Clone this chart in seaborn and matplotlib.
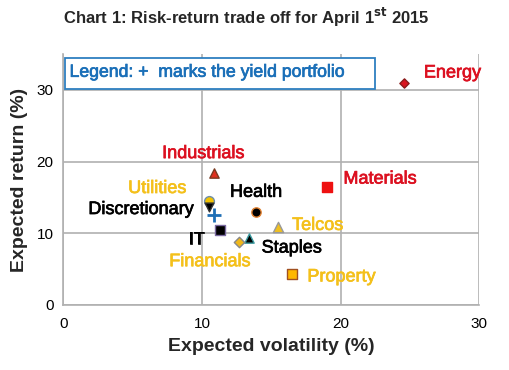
import matplotlib
matplotlib.use("Agg")
import matplotlib.pyplot as plt
import matplotlib.patheffects as pe
from matplotlib.patches import Rectangle
import seaborn as sns
import pandas as pd

sectors = ["Energy", "Industrials", "Materials", "Utilities", "Discretionary",
           "Health", "Telcos", "IT", "Staples", "Financials", "Property"]
volatility = [24.6, 10.9, 19.0, 10.5, 10.5, 13.9, 15.5, 11.3, 13.4, 12.65, 16.5]
expected_return = [31.0, 18.4, 16.4, 14.5, 13.7, 13.0, 10.9, 10.5, 9.3, 8.75, 4.3]
yield_vol = [10.9]
yield_ret = [12.55]
x_ticks = [0, 10, 20, 30]
y_ticks = [0, 10, 20, 30]

RED = "#dc1020"
GOLD = "#f4c01a"
BLACK = "#000000"

style = {
    "Energy":        dict(marker="D", s=22, face="#d9141e", edge="#8b1a1a", label=RED),
    "Industrials":   dict(marker="^", s=45, face="#e0301e", edge="#7a3a20", label=RED),
    "Materials":     dict(marker="s", s=50, face="#ee1111", edge="#ee1111", label=RED),
    "Utilities":     dict(marker="o", s=50, face="#f2c200", edge="#6f8fa8", label=GOLD),
    "Discretionary": dict(marker="v", s=40, face="#000000", edge="#333333", label=BLACK),
    "Health":        dict(marker="o", s=45, face="#000000", edge="#e08030", label=BLACK),
    "Telcos":        dict(marker="^", s=55, face="#f0c020", edge="#999999", label=GOLD),
    "IT":            dict(marker="s", s=50, face="#000000", edge="#7a6aa0", label=BLACK),
    "Staples":       dict(marker="^", s=45, face="#000000", edge="#3a9aa0", label=BLACK),
    "Financials":    dict(marker="D", s=28, face="#f0b81a", edge="#888888", label=GOLD),
    "Property":      dict(marker="s", s=50, face="#ffb800", edge="#a05020", label=GOLD),
}
# label placement (offsets in points, alignment)
label_pos = {
    "Energy":        ((14, 7), "left"),
    "Industrials":   ((-8, 14), "center"),
    "Materials":     ((12, 6), "left"),
    "Utilities":     ((-16, 9), "right"),
    "Discretionary": ((-11, -2), "right"),
    "Health":        ((0, 14), "center"),
    "Telcos":        ((10, 1), "left"),
    "IT":            ((-17, -7), "center"),
    "Staples":       ((9, -7), "left"),
    "Financials":    ((-50, -14), "left"),
    "Property":      ((11, -2), "left"),
}

df = pd.DataFrame({"sector": sectors, "vol": volatility, "ret": expected_return})

sns.set_theme(style="white")
plt.rcParams["font.family"] = ["Liberation Sans", "DejaVu Sans"]

fig = plt.figure(figsize=(5.09, 3.70), dpi=100)
ax = fig.add_axes([63.3 / 509, 1 - 305 / 370, (479.3 - 63.3) / 509, (305 - 54) / 370])

for _, row in df.iterrows():
    st = style[row["sector"]]
    sns.scatterplot(x=[row["vol"]], y=[row["ret"]], ax=ax, marker=st["marker"],
                    s=st["s"], color=st["face"], edgecolor=st["edge"], linewidth=1.0,
                    zorder=3, legend=False)
    (dx, dy), ha = label_pos[row["sector"]]
    ax.annotate(row["sector"], (row["vol"], row["ret"]), xytext=(dx, dy),
                textcoords="offset points", ha=ha, va="center",
                fontsize=13, color=st["label"], zorder=4,
                path_effects=[pe.withStroke(linewidth=0.5, foreground=st["label"])])

sns.scatterplot(x=yield_vol, y=yield_ret, ax=ax, marker="+", s=110, color="#1f6fb5",
                linewidth=2.0, zorder=4, legend=False)

ax.set_xlim(0, 30)
ax.set_ylim(0, 35)
ax.set_xticks(x_ticks)
ax.set_yticks(y_ticks)
ax.set_xticklabels([str(t) for t in x_ticks], fontsize=11)
ax.set_yticklabels([str(t) for t in y_ticks], fontsize=11)
ax.grid(True, color="#b0b0b0", linewidth=1.2)
for side in ["top", "right"]:
    ax.spines[side].set_visible(False)
for side in ["left", "bottom"]:
    ax.spines[side].set_color("#b0b0b0")
    ax.spines[side].set_linewidth(1.2)
ax.tick_params(axis="both", length=4, color="#b0b0b0", width=1.2, pad=3, labelcolor="black")
ax.tick_params(axis="x", pad=5)

ax.set_xlabel("Expected volatility (%)", fontsize=14, fontweight="bold", labelpad=5)
ax.set_ylabel("Expected return (%)", fontsize=14, fontweight="bold", labelpad=6)

# legend box
ax.add_patch(Rectangle((0.1, 30.1), 22.4, 4.35, facecolor="white", edgecolor="#2e7fc0",
                       linewidth=1.3, zorder=5))
ax.text(0.45, 32.45, "Legend: +  marks the yield portfolio", fontsize=12.7,
        color="#1a6fb8", va="center", ha="left", zorder=6,
        path_effects=[pe.withStroke(linewidth=0.5, foreground="#1a6fb8")])

fig.text(0.483, 0.953, "Chart 1: Risk-return trade off for April 1$^{\\mathbf{st}}$ 2015",
         ha="center", va="center", fontsize=12, fontweight="bold")

fig.savefig("out.png", dpi=100)
